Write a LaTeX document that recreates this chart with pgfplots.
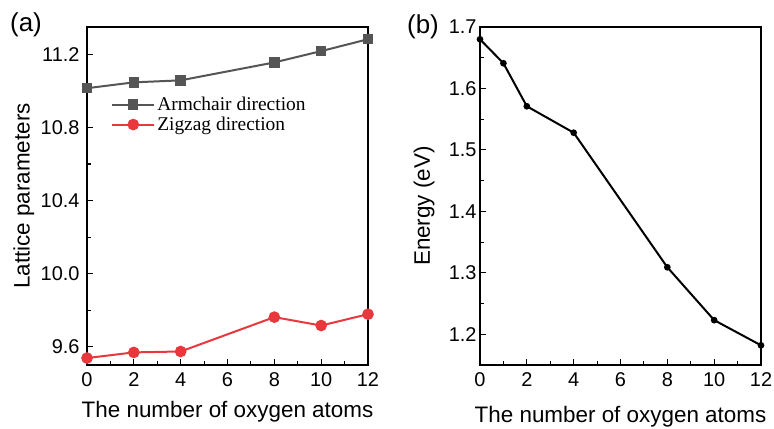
\documentclass[border=0pt]{standalone}
\usepackage{pgfplots}
\pgfplotsset{compat=1.18}
\usepackage{fontspec}
\setmainfont{Liberation Sans}
\newfontfamily\serifleg{Liberation Serif}
\definecolor{armgray}{HTML}{555555}
\definecolor{zigred}{HTML}{E8383D}
\begin{document}
\begin{tikzpicture}
\pgfplotsset{
  myax/.style={
    scale only axis, width=281bp, height=338bp,
    /pgf/number format/assume math mode=true,
    tick align=inside, tick pos=left,
    major tick length=6bp, minor tick length=3.5bp,
    axis line style={line width=1.3bp}, every tick/.style={line width=1.1bp,black},
    ticklabel style={font=\fontsize{20}{22}\selectfont},
    xticklabel style={yshift=-4bp},
    label style={font=\fontsize{22.5}{26}\selectfont},
    xmin=0, xmax=12, xtick={0,2,...,12}, minor x tick num=1,
    clip=false,
  }
}
\begin{axis}[myax, at={(87bp,64bp)}, anchor=south west,
  ymin=9.5, ymax=11.35, ytick={9.6,10.0,10.4,10.8,11.2}, minor y tick num=1,
  yticklabel style={xshift=-4bp, /pgf/number format/.cd, fixed, fixed zerofill, precision=1},
  xlabel={The number of oxygen atoms}, ylabel={Lattice parameters},
  xlabel style={at={(axis description cs:0.5,-0.139)}, anchor=center},
  ylabel style={at={(axis description cs:-0.225,0.5)}, anchor=center},
  legend style={draw=none, fill=none, font=\serifleg\fontsize{19.5}{23}\selectfont,
    at={(rel axis cs:0.075,0.805)}, anchor=north west, row sep=1bp},
  legend cell align=left,
  legend image code/.code={\draw[mark repeat=2,mark phase=2] plot coordinates {(0bp,0bp)(21bp,0bp)(42bp,0bp)};},
]
\addplot[armgray, line width=2bp, mark=square*, mark size=4.2bp, mark options={solid}] coordinates {
(0,11.015) (2,11.047) (4,11.058) (8,11.156) (10,11.218) (12,11.283)};
\addlegendentry{Armchair direction}
\addplot[zigred, line width=2bp, mark=*, mark size=4.8bp] coordinates {
(0,9.538) (2,9.569) (4,9.574) (8,9.762) (10,9.716) (12,9.778)};
\addlegendentry{Zigzag direction}
\end{axis}
\begin{axis}[myax, at={(480bp,64bp)}, anchor=south west,
  ymin=1.15, ymax=1.7, ytick={1.2,1.3,...,1.7}, minor y tick num=1,
  yticklabel style={/pgf/number format/.cd, fixed, fixed zerofill, precision=1},
  xlabel={The number of oxygen atoms}, ylabel={Energy (eV)},
  xlabel style={at={(axis description cs:0.5,-0.154)}, anchor=center},
  ylabel style={at={(axis description cs:-0.199,0.47)}, anchor=center},
]
\addplot[black, line width=2bp, mark=*, mark size=2.3bp] coordinates {
(0,1.680) (1,1.641) (2,1.571) (4,1.528) (8,1.309) (10,1.223) (12,1.182)};
\end{axis}
\node[font=\fontsize{26}{30}\selectfont] at (26bp,404bp) {(a)};
\node[font=\fontsize{26}{30}\selectfont] at (423bp,402bp) {(b)};
\pgfresetboundingbox
\useasboundingbox (0bp,0bp) rectangle (774bp,429bp);
\end{tikzpicture}
\end{document}
